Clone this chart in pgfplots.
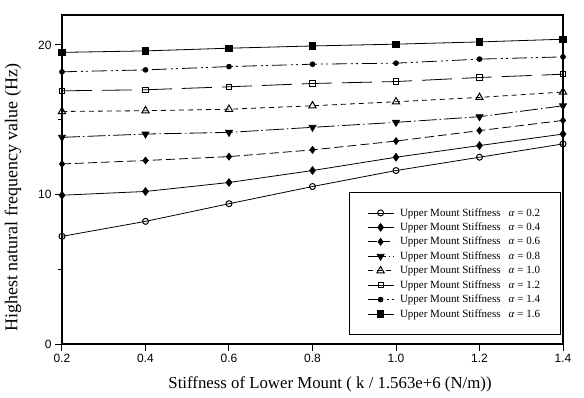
\documentclass[border=0pt]{standalone}
\usepackage{fontspec}
\setmainfont{Liberation Serif}
\setsansfont{Liberation Sans}
\usepackage{pgfplots}
\pgfplotsset{compat=1.18}
\begin{document}
\begin{tikzpicture}[x=1pt,y=1pt]
\path[use as bounding box] (-62,-53) rectangle (522,344);
\begin{axis}[
  at={(0,0)}, anchor=south west,
  scale only axis, width=501pt, height=329pt,
  xmin=0.2, xmax=1.4, ymin=0, ymax=22,
  xtick={0.2,0.4,0.6,0.8,1.0,1.2,1.4},
  ytick={0,10,20}, minor ytick={5,15},
  tick align=outside, xtick pos=bottom, ytick pos=left,
  major tick length=7pt, minor tick length=4pt,
  axis line style={line width=1.2pt},
  every tick/.style={black, line width=1pt},
  /pgf/number format/assume math mode=true,
  ticklabel style={font=\fontsize{12}{14}\selectfont\sffamily},
  xticklabel style={/pgf/number format/.cd, fixed, fixed zerofill, precision=1},
  xlabel={Stiffness of Lower Mount ( k / 1.563e+6 (N/m))},
  ylabel={Highest natural frequency value (Hz)},
  xlabel style={font=\fontsize{16.8}{19}\selectfont, at={(rel axis cs:0.535,-0.1216)}, anchor=center},
  ylabel style={font=\fontsize{18}{21}\selectfont, at={(rel axis cs:-0.098,0.445)}, anchor=center},
  legend style={at={(rel axis cs:0.995,0.027)}, anchor=south east,
    font=\fontsize{11}{12}\selectfont, draw=black, line width=0.9pt,
    inner xsep=18pt, inner ysep=14pt, row sep=1.2pt, column sep=4pt},
  legend cell align=left,
  legend image code/.code={\draw[mark repeat=2,mark phase=2] plot coordinates {(0pt,0pt) (13pt,0pt) (26pt,0pt)};},
]
\addplot[black, line width=0.8pt, mark=o, mark size=3pt, mark options={solid, fill=white, line width=1pt}]
  coordinates {(0.2,7.2) (0.4,8.2) (0.6,9.38) (0.8,10.53) (1.0,11.6) (1.2,12.49) (1.4,13.38)};
\addlegendentry{Upper Mount Stiffness\hspace{8pt}\textit{α} = 0.2}
\addplot[black, line width=0.8pt, mark=diamond*, mark size=3.8pt, mark options={solid}]
  coordinates {(0.2,9.95) (0.4,10.2) (0.6,10.8) (0.8,11.6) (1.0,12.49) (1.2,13.27) (1.4,14.04)};
\addlegendentry{Upper Mount Stiffness\hspace{8pt}\textit{α} = 0.4}
\addplot[black, line width=0.8pt, dash pattern=on 9pt off 4pt, mark=diamond*, mark size=3.4pt, mark options={solid}]
  coordinates {(0.2,12.04) (0.4,12.27) (0.6,12.53) (0.8,12.98) (1.0,13.57) (1.2,14.27) (1.4,14.95)};
\addlegendentry{Upper Mount Stiffness\hspace{8pt}\textit{α} = 0.6}
\addplot[black, line width=0.8pt, dash pattern=on 18pt off 3pt on 1.5pt off 3pt, mark=triangle*, mark size=4pt, mark options={solid, rotate=180}]
  coordinates {(0.2,13.82) (0.4,14.04) (0.6,14.15) (0.8,14.49) (1.0,14.82) (1.2,15.2) (1.4,15.93)};
\addlegendentry{Upper Mount Stiffness\hspace{8pt}\textit{α} = 0.8}
\addplot[black, line width=0.8pt, dash pattern=on 5pt off 4pt, mark=triangle, mark size=4.2pt, mark options={solid, fill=white, line width=1pt}]
  coordinates {(0.2,15.55) (0.4,15.6) (0.6,15.7) (0.8,15.93) (1.0,16.2) (1.2,16.49) (1.4,16.85)};
\addlegendentry{Upper Mount Stiffness\hspace{8pt}\textit{α} = 1.0}
\addplot[black, line width=0.8pt, dash pattern=on 30pt off 10pt, mark=square, mark size=2.6pt, mark options={solid, fill=white, line width=1pt}]
  coordinates {(0.2,16.93) (0.4,17.0) (0.6,17.2) (0.8,17.42) (1.0,17.55) (1.2,17.82) (1.4,18.04)};
\addlegendentry{Upper Mount Stiffness\hspace{8pt}\textit{α} = 1.2}
\addplot[black, line width=0.8pt, dash pattern=on 15pt off 4pt on 2pt off 3pt on 2pt off 4pt, mark=*, mark size=2.4pt, mark options={solid}]
  coordinates {(0.2,18.2) (0.4,18.33) (0.6,18.55) (0.8,18.71) (1.0,18.78) (1.2,19.05) (1.4,19.2)};
\addlegendentry{Upper Mount Stiffness\hspace{8pt}\textit{α} = 1.4}
\addplot[black, line width=0.8pt, mark=square*, mark size=3.2pt, mark options={solid}]
  coordinates {(0.2,19.5) (0.4,19.6) (0.6,19.78) (0.8,19.93) (1.0,20.05) (1.2,20.2) (1.4,20.38)};
\addlegendentry{Upper Mount Stiffness\hspace{8pt}\textit{α} = 1.6}
\end{axis}
\end{tikzpicture}
\end{document}
